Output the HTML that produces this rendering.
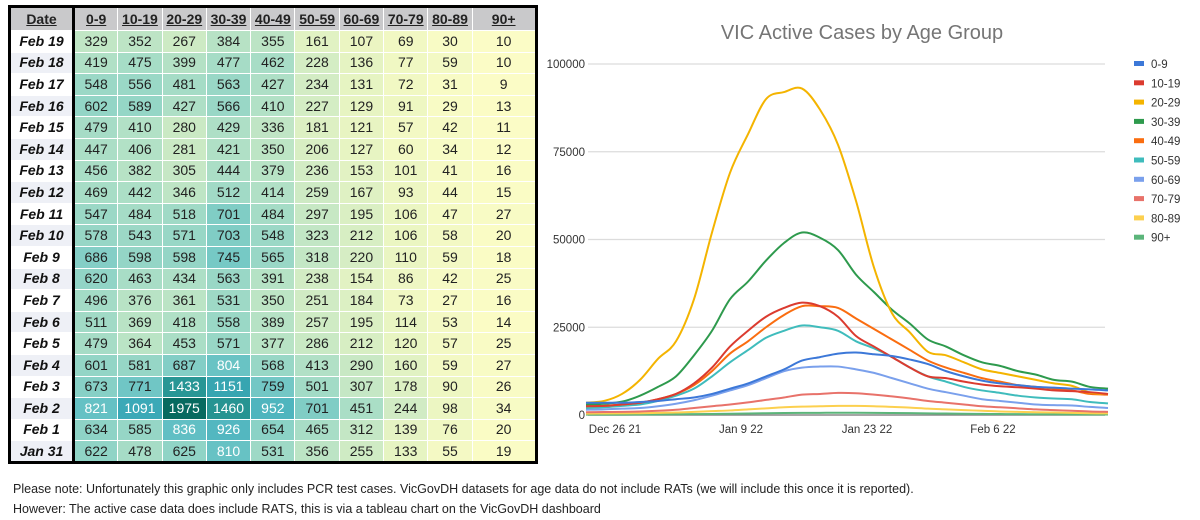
<!DOCTYPE html>
<html><head><meta charset="utf-8">
<style>
body{margin:0;width:1200px;height:520px;background:#fff;overflow:hidden;font-family:"Liberation Sans",sans-serif;position:relative}
#tbl{position:absolute;left:8px;top:5px;border:3px solid #000;border-collapse:collapse;table-layout:fixed}
#tbl td,#tbl th{height:20px;line-height:19px;padding:0;text-align:center;font-size:14px;border:1px solid #fff;color:#222;box-sizing:border-box}
#tbl th{background:#c9c9cb;font-weight:bold;text-decoration:underline;height:24px;font-size:14px}
#tbl td.d{font-weight:bold;font-style:italic;border-right:3px solid #000;width:61px;color:#111}
#tbl th.d{border-right:3px solid #000}
.note{position:absolute;left:13px;font-size:12.5px;color:#222}
</style></head><body>
<table id="tbl"></table>
<div class="note" style="top:482px">Please note: Unfortunately this graphic only includes PCR test cases. VicGovDH datasets for age data do not include RATs (we will include this once it is reported).</div>
<div class="note" style="top:502px">However: The active case data does include RATS, this is via a tableau chart on the VicGovDH dashboard</div>
<svg id="chart" width="660" height="440" style="position:absolute;left:540px;top:0"></svg>
<script>
const ageGroups=["0-9","10-19","20-29","30-39","40-49","50-59","60-69","70-79","80-89","90+"];
const dates=["Feb 19","Feb 18","Feb 17","Feb 16","Feb 15","Feb 14","Feb 13","Feb 12","Feb 11","Feb 10","Feb 9","Feb 8","Feb 7","Feb 6","Feb 5","Feb 4","Feb 3","Feb 2","Feb 1","Jan 31"];
const tableValues=[
[329,352,267,384,355,161,107,69,30,10],
[419,475,399,477,462,228,136,77,59,10],
[548,556,481,563,427,234,131,72,31,9],
[602,589,427,566,410,227,129,91,29,13],
[479,410,280,429,336,181,121,57,42,11],
[447,406,281,421,350,206,127,60,34,12],
[456,382,305,444,379,236,153,101,41,16],
[469,442,346,512,414,259,167,93,44,15],
[547,484,518,701,484,297,195,106,47,27],
[578,543,571,703,548,323,212,106,58,20],
[686,598,598,745,565,318,220,110,59,18],
[620,463,434,563,391,238,154,86,42,25],
[496,376,361,531,350,251,184,73,27,16],
[511,369,418,558,389,257,195,114,53,14],
[479,364,453,571,377,286,212,120,57,25],
[601,581,687,804,568,413,290,160,59,27],
[673,771,1433,1151,759,501,307,178,90,26],
[821,1091,1975,1460,952,701,451,244,98,34],
[634,585,836,926,654,465,312,139,76,20],
[622,478,625,810,531,356,255,133,55,19]];
// chart data (every 2 days from Dec 23 21 to Feb 19 22)
const seriesNames=["0-9","10-19","20-29","30-39","40-49","50-59","60-69","70-79","80-89","90+"];
const xTickLabels=["Dec 26 21","Jan 9 22","Jan 23 22","Feb 6 22"];
const xTickDays=[3,17,31,45];
const yTicks=[0,25000,50000,75000,100000];
const s0_9=[3500,3500,3500,3700,4000,4500,5000,6000,7500,9000,11000,13000,15500,16500,17500,17800,17300,16800,15800,14500,12500,11000,9800,9000,8500,8000,7800,7500,7300,7000];
const s10_19=[2500,2600,3000,3500,4500,6000,9000,13500,19500,24000,28000,30500,32000,31000,28000,22500,19500,16500,13500,11000,10500,9500,8700,8200,7900,7500,7000,6800,6500,6000];
const s20_29=[3500,4000,6000,10000,16000,21000,33000,52000,69000,80000,90000,92000,93000,87000,77000,61000,42000,29000,23500,18000,17000,15000,13000,12000,11000,10000,9000,8300,6400,6000];
const s30_39=[3000,3200,3800,5500,8000,11000,17000,24000,33000,38000,44000,49000,52000,50500,47000,40000,35000,30000,26000,21500,19500,17000,15000,14000,12500,11500,10000,9500,8000,7500];
const s40_49=[2500,2600,3000,3500,4500,6000,8500,12500,17500,21000,25000,28500,31000,31000,30500,27500,24500,21500,18500,15500,13500,12000,10500,9500,8500,8000,7500,7000,6000,5800];
const s50_59=[2000,2200,2600,3000,4000,5500,7500,11000,15000,18500,22000,24000,25500,25000,24000,21000,19000,16500,13500,11000,9500,8000,7000,6300,5500,5000,4700,4500,3700,3300];
const s60_69=[1500,1600,1800,2000,2500,3200,4200,5500,7000,8500,10500,12500,13500,13800,13800,13000,12000,10500,9000,7500,6500,5500,4500,4000,3500,3000,2800,2700,2300,2000];
const s70_79=[800,850,900,1000,1200,1500,2000,2500,3000,3600,4300,5000,5800,6000,6300,6200,5800,5300,4700,4000,3500,3000,2500,2200,1900,1600,1400,1200,1000,900];
const s80_89=[400,420,450,500,600,700,900,1100,1300,1600,1900,2200,2400,2500,2600,2600,2500,2300,2100,1800,1600,1400,1200,1000,900,800,700,600,500,450];
const s90p=[100,110,120,140,170,200,250,300,350,420,500,560,600,620,640,640,620,580,530,470,420,360,320,280,240,220,200,180,160,140];
const allSeries=[s0_9,s10_19,s20_29,s30_39,s40_49,s50_59,s60_69,s70_79,s80_89,s90p];
const colors=["#3c78d8","#db3b2f","#f4b400","#2e9a4d","#fa6d10","#3fbcbc","#7aa0ec","#e8726a","#fcd04f","#5bb57a"];

// table
const stops=[[0,[253,253,198]],[100,[236,246,194]],[250,[208,235,196]],[450,[170,222,198]],[650,[140,210,198]],[850,[94,190,196]],[1100,[58,168,182]],[1500,[36,146,142]],[2000,[5,104,94]]];
function cellColor(v){for(let i=1;i<stops.length;i++){if(v<=stops[i][0]){const a=stops[i-1],b=stops[i],t=(v-a[0])/(b[0]-a[0]);return 'rgb('+a[1].map((c,k)=>Math.round(c+(b[1][k]-c)*t)).join(',')+')';}}return 'rgb(5,104,94)';}
const tbl=document.getElementById('tbl');
let h='<tr style="height:24px"><th class="d" style="width:64px">Date</th>';
ageGroups.forEach((g,i)=>{h+='<th style="width:'+(i==9?64:44.3)+'px">'+g+'</th>';});
h+='</tr>';
dates.forEach((d,r)=>{h+='<tr style="height:21.6px"><td class="d" style="background:'+(r%2?'#eef0f6':'#fff')+'">'+d+'</td>';
tableValues[r].forEach(v=>{h+='<td style="background:'+cellColor(v)+';color:'+(v>780?'#fff':'#222')+'">'+v+'</td>';});h+='</tr>';});
tbl.innerHTML=h;

// chart
const NS='http://www.w3.org/2000/svg';const svg=document.getElementById('chart');
const X0=48,PXD=9,Y0=415,PXV=351/100000;
const xS=d=>X0+d*PXD, yS=v=>Y0-v*PXV;
function mk(t,a,name){const e=document.createElementNS(NS,t);for(const k in a)e.setAttribute(k,a[k]);


svg.appendChild(e);return e;}
const title=mk('text',{x:322,y:39,'text-anchor':'middle','font-size':20,fill:'#757575','font-family':'Liberation Sans, sans-serif'},'chart-title');title.textContent='VIC Active Cases by Age Group';
yTicks.forEach(v=>{mk('line',{x1:X0,x2:565,y1:yS(v),y2:yS(v),stroke:v?'#dcdcdc':'#888','stroke-width':v?1.3:1.5},'gridline');
const t=mk('text',{x:45,y:yS(v)+4,'text-anchor':'end','font-size':11.5,fill:'#333'},'y-tick-label');t.textContent=v;});
xTickLabels.forEach((l,i)=>{const t=mk('text',{x:xS(xTickDays[i]),y:433,'text-anchor':'middle','font-size':11.5,fill:'#333'},'x-tick-label');t.textContent=l;});
function smooth(pts){let d='M'+pts[0][0]+','+pts[0][1];for(let i=0;i<pts.length-1;i++){const p0=pts[i-1]||pts[i],p1=pts[i],p2=pts[i+1],p3=pts[i+2]||p2;
d+=' C'+(p1[0]+(p2[0]-p0[0])/6)+','+(p1[1]+(p2[1]-p0[1])/6)+' '+(p2[0]-(p3[0]-p1[0])/6)+','+(p2[1]-(p3[1]-p1[1])/6)+' '+p2[0]+','+p2[1];}return d;}
for(let s=allSeries.length-1;s>=0;s--){const pts=allSeries[s].map((v,i)=>[xS(i*2)-2,yS(v)]);
mk('path',{d:smooth(pts),fill:'none',stroke:colors[s],'stroke-width':2},'series-line-'+seriesNames[s]);}
seriesNames.forEach((n,i)=>{const y=64+i*19.3;mk('rect',{x:594,y:y-3,width:10,height:5,fill:colors[i]},'legend-swatch');
const t=mk('text',{x:611,y:y+4,'font-size':11.5,fill:'#333'},'legend-entry');t.textContent=n;});
</script>
</body></html>
